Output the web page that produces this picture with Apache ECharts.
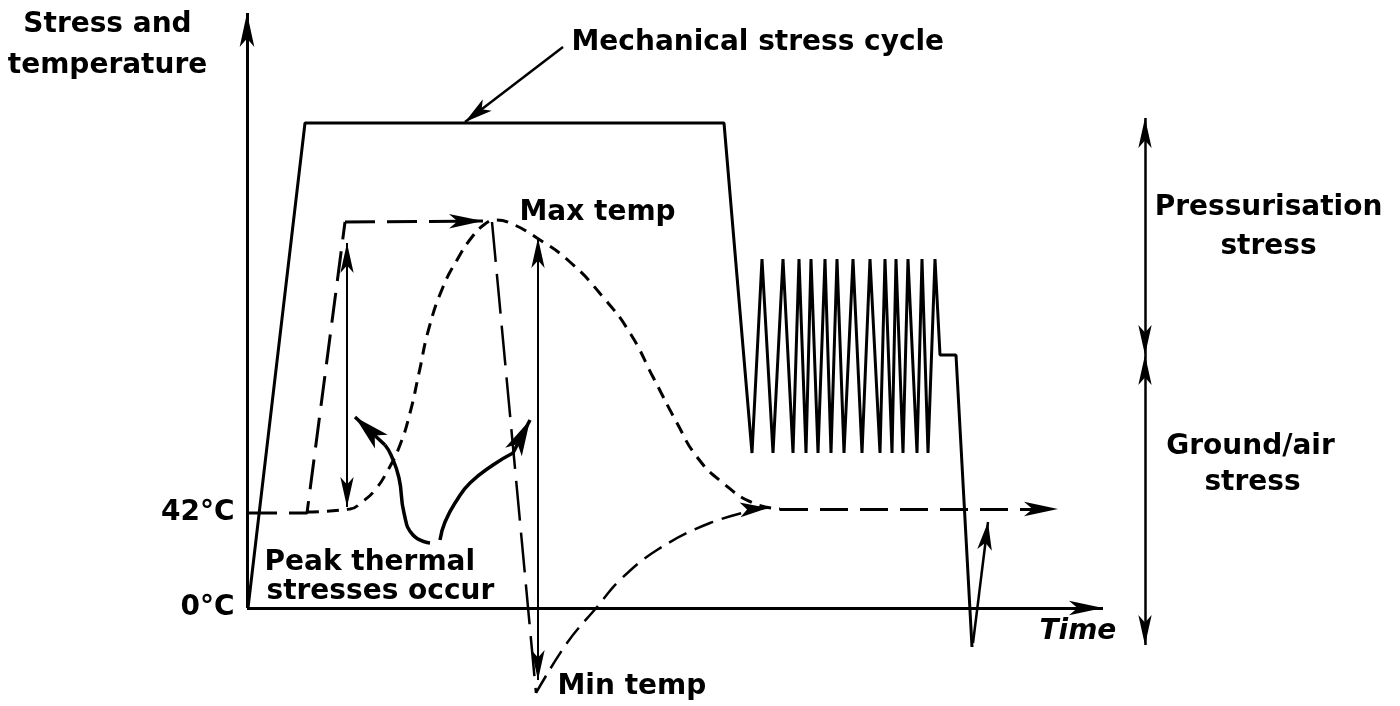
<!DOCTYPE html>
<html>
<head>
<meta charset="utf-8">
<script src="https://cdn.jsdelivr.net/npm/echarts@6/dist/echarts.min.js"></script>
<style>
  html, body { margin: 0; background: #fff; }
  #chart { width: 1400px; height: 706px; }
</style>
</head>
<body>
<div id="chart"></div>
<script>
// time (arbitrary units) and stress/temperature (arbitrary units, 0 = 0°C, 95 = 42°C)
const mechTime = [1, 58, 477, 505,
  515, 526, 536, 546, 552, 559, 564, 571, 578, 584, 590, 597, 606,
  615, 623, 633, 638, 645, 649, 656, 661, 670, 675, 681, 688,
  693, 709, 725];
const mechStress = [0, 485, 485, 155,
  349, 155, 349, 155, 349, 155, 349, 155, 349, 155, 349, 155, 349,
  155, 349, 155, 349, 155, 349, 155, 349, 155, 349, 155, 349,
  253, 253, -39];

// structure temperature (short dash bell)
const bellTime = [60, 103, 115, 128, 141, 153, 163, 172, 182, 196, 210, 225, 238, 248,
  263, 290, 323, 356, 383, 406, 430, 450, 476, 506, 533];
const bellTemp = [96, 99, 106, 118, 138, 163, 195, 235, 280, 321, 348, 371, 384, 388,
  385, 370, 346, 311, 275, 231, 185, 151, 125, 105, 99];

// air temperature (long dash)
const airTime = [0, 60, 98];
const airTemp = [95, 95, 386];
const topTime = [98, 236];
const topTemp = [386, 387];
const dropTime = [245, 289];
const dropTemp = [386, -85];
const recoverTime = [289, 320, 350, 373, 410, 463, 516];
const recoverTemp = [-85, -35, 1, 28, 58, 85, 100];
const steadyTime = [533, 811];
const steadyTemp = [99, 99];

// "Peak thermal stresses occur" pointers
const pointer1 = [[183, 65], [166, 73], [157, 95], [152, 130], [144, 153], [138, 163]];
const pointer1Tip = [108, 191];
const pointer2 = [[193, 68], [198, 86], [210, 108], [223, 125], [246, 143], [266, 155]];
const pointer2Tip = [283, 188];

const tickValues = [0, 95];
const tickLabels = ['0°C', '42°C'];

const labelTexts = ['Stress and', 'temperature', 'Mechanical stress cycle', 'Max temp',
  'Peak thermal', 'stresses occur', 'Min temp', 'Time',
  'Pressurisation', 'stress', 'Ground/air', 'stress'];
const labelPos = [[-139, 583], [-139, 542], [325, 565], [273, 395],
  [18, 45], [20, 16], [311, -79], [793, -24],
  [1022, 400], [1022, 361], [1004, 161], [1006, 125]];
const labelAlign = ['center', 'center', 'left', 'left',
  'left', 'left', 'left', 'left',
  'center', 'center', 'center', 'center'];

const ink = '#000';
const font = 'DejaVu Sans';
const zip = (xs, ys) => xs.map((x, i) => [x, ys[i]]);

const chart = echarts.init(document.getElementById('chart'));

function arrows(items, symbol, size) {
  return {
    type: 'lines',
    coordinateSystem: 'cartesian2d',
    symbol: symbol,
    symbolSize: size,
    lineStyle: { color: ink, width: 2, opacity: 1, curveness: 0 },
    data: items,
    silent: true
  };
}

const textStyle = {
  show: true, position: [0, 0], verticalAlign: 'middle',
  fontFamily: font, fontSize: 28, fontWeight: 'bold', color: ink
};

const textData = labelTexts.map((t, i) => ({
  value: labelPos[i],
  label: Object.assign({}, textStyle, {
    formatter: t,
    align: labelAlign[i],
    fontStyle: t === 'Time' ? 'italic' : 'normal'
  })
})).concat(tickValues.map((v, i) => ({
  value: [-12, v],
  label: Object.assign({}, textStyle, { formatter: tickLabels[i], align: 'right' })
})));

chart.setOption({
  animation: false,
  backgroundColor: '#fff',
  grid: { left: 0, right: 0, top: 0, bottom: 0 },
  xAxis: { type: 'value', min: -247, max: 1153, show: false },
  yAxis: { type: 'value', min: -98, max: 608, show: false },
  series: [
    {
      type: 'line', name: 'Mechanical stress cycle',
      data: zip(mechTime, mechStress),
      showSymbol: false, lineStyle: { color: ink, width: 3 }
    },
    {
      type: 'line', data: zip(bellTime, bellTemp), smooth: 0.5,
      showSymbol: false, lineStyle: { color: ink, width: 3, type: [12, 8] }
    },
    {
      type: 'line', data: zip(airTime, airTemp),
      showSymbol: false, lineStyle: { color: ink, width: 3, type: [30, 12] }
    },
    {
      type: 'line', data: zip(dropTime, dropTemp),
      showSymbol: false, lineStyle: { color: ink, width: 2.5, type: [40, 12] }
    },
    {
      type: 'line', data: zip(recoverTime, recoverTemp), smooth: 0.4,
      showSymbol: false, lineStyle: { color: ink, width: 2.5, type: [20, 9] }
    },
    {
      type: 'line', data: pointer1, smooth: 0.5,
      showSymbol: false, lineStyle: { color: ink, width: 3.5 }
    },
    {
      type: 'line', data: pointer2, smooth: 0.5,
      showSymbol: false, lineStyle: { color: ink, width: 3.5 }
    },
    arrows([
      { coords: [[0, 0], [0, 595]], lineStyle: { width: 3 } },
      { coords: [[0, 0], [856, 0]], lineStyle: { width: 3 } },
      { coords: zip(topTime, topTemp), lineStyle: { width: 3, type: [30, 12] } },
      { coords: zip(steadyTime, steadyTemp), lineStyle: { width: 3, type: [28, 12] } }
    ], ['none', 'arrow'], [0, [11, 34]]),
    arrows([
      { coords: [[316, 561], [218, 486]], lineStyle: { width: 2.5 } },
      { coords: [[726, -35], [741, 86]], lineStyle: { width: 2.5 } },
      { coords: [[506, 99], [521, 100]] }
    ], ['none', 'arrow'], [0, [11, 28]]),
    arrows([
      { coords: [pointer1[pointer1.length - 1], pointer1Tip], lineStyle: { width: 3.5 } },
      { coords: [pointer2[pointer2.length - 1], pointer2Tip], lineStyle: { width: 3.5 } }
    ], ['none', 'arrow'], [0, [14, 36]]),
    arrows([
      { coords: [[100, 101], [100, 365]] },
      { coords: [[291, -72], [291, 370]] },
      { coords: [[898, 253], [898, 490]], lineStyle: { width: 2.5 } },
      { coords: [[898, 253], [898, -37]], lineStyle: { width: 2.5 } }
    ], ['arrow', 'arrow'], [[10, 30], [10, 30]]),
    {
      type: 'scatter', symbolSize: 1, silent: true,
      itemStyle: { color: 'rgba(0,0,0,0)', opacity: 1 },
      label: textStyle,
      data: textData
    }
  ]
});
window.addEventListener('resize', () => chart.resize());
</script>
</body>
</html>
